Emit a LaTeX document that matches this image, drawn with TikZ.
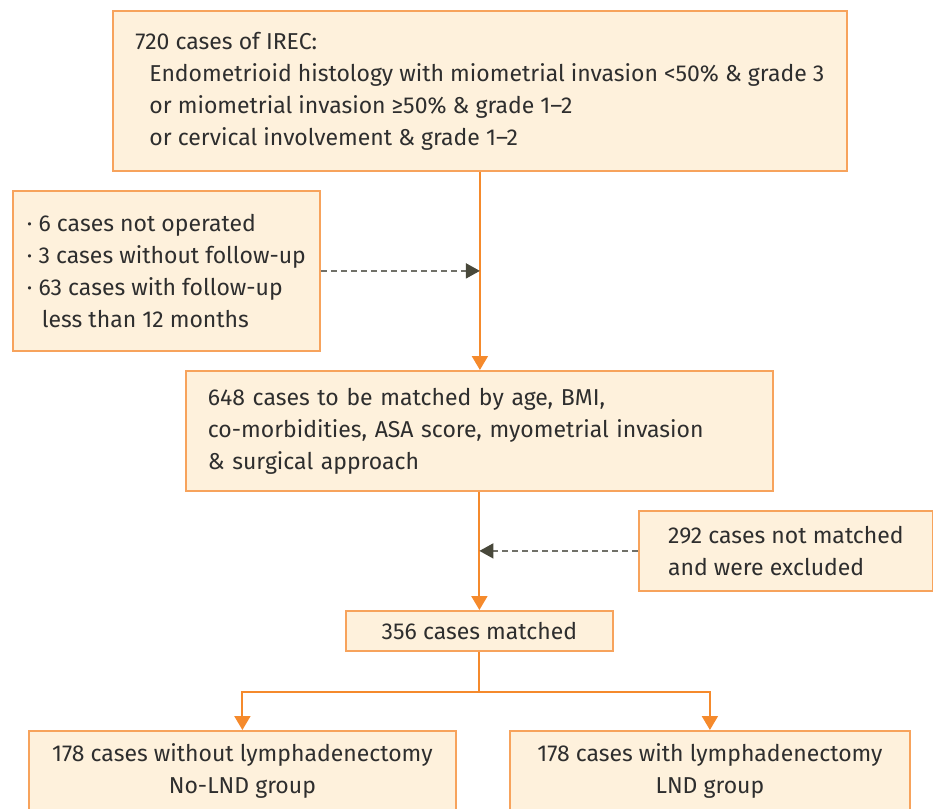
\documentclass[tikz,border=0pt]{standalone}
\usepackage{fontspec}
\setmainfont{Fira Sans}
\usetikzlibrary{arrows.meta}
\definecolor{boxfill}{HTML}{FEF1DC}
\definecolor{boxline}{HTML}{F7A35C}
\definecolor{flowline}{HTML}{F58A2C}
\definecolor{dashline}{HTML}{707068}
\definecolor{dashhead}{HTML}{48483A}
\definecolor{txt}{HTML}{2E2E2E}
\newcommand{\ind}{\hspace*{14pt}}

\begin{document}
\begin{tikzpicture}[x=1pt,y=-1pt,
    box/.style={draw=boxline,fill=boxfill,line width=1.8pt,text=txt,inner sep=0pt,
      font=\fontsize{23}{32}\selectfont,anchor=north west},
    flow/.style={draw=flowline,line width=2pt,-{Triangle[width=16pt,length=14pt]}},
    skip/.style={draw=dashline,line width=1.8pt,dash pattern=on 6pt off 4pt,
      -{Triangle[width=15pt,length=14pt,color=dashhead]}}]
  \clip(0,0)rectangle(933,808);
  % boxes
  \node[box,minimum width=734pt,minimum height=160pt,align=left]
    (all) at (112,10) {720 cases of IREC:\\
      \ind Endometrioid histology with miometrial invasion <50\% \& grade 3\\
      \ind or miometrial invasion ≥50\% \& grade 1–2\\
      \ind or cervical involvement \& grade 1–2};
  \node[box,minimum width=307pt,minimum height=160pt,align=left]
    (excl) at (12,190) {· 6 cases not operated\\
      · 3 cases without follow-up\\
      · 63 cases with follow-up\\
      \hspace*{15pt}less than 12 months};
  \node[box,minimum width=587pt,minimum height=120pt,inner xsep=22pt,text width=543pt,align=left]
    (pool) at (185,370) {648 cases to be matched by age, BMI,\\
      co-morbidities, ASA score, myometrial invasion\\
      \& surgical approach};
  \node[box,minimum width=294pt,minimum height=80pt,align=left]
    (unmatched) at (638,510) {292 cases not matched\\and were excluded};
  \node[box,minimum width=267pt,minimum height=40pt,align=center]
    (matched) at (345,610) {356 cases matched};
  \node[box,minimum width=427pt,minimum height=80pt,align=center]
    (nolnd) at (28,730) {178 cases without lymphadenectomy\\No-LND group};
  \node[box,minimum width=400pt,minimum height=80pt,align=center]
    (lnd) at (509,730) {178 cases with lymphadenectomy\\LND group};
  % connectors
  \coordinate (j1) at (all.south |- excl.east);
  \coordinate (j2) at (pool.south |- unmatched.west);
  \coordinate (split) at ([yshift=-40pt]matched.south);
  \draw[flow] (all.south) -- (all.south |- pool.north);
  \draw[skip] (excl.east) -- (j1);
  \draw[flow] (pool.south) -- (matched.north);
  \draw[skip] (unmatched.west) -- (j2);
  \draw[flowline,line width=2pt] (matched.south) -- (split);
  \draw[flow] (split) -| (nolnd.north);
  \draw[flow] (split) -| (lnd.north);
\end{tikzpicture}
\end{document}
